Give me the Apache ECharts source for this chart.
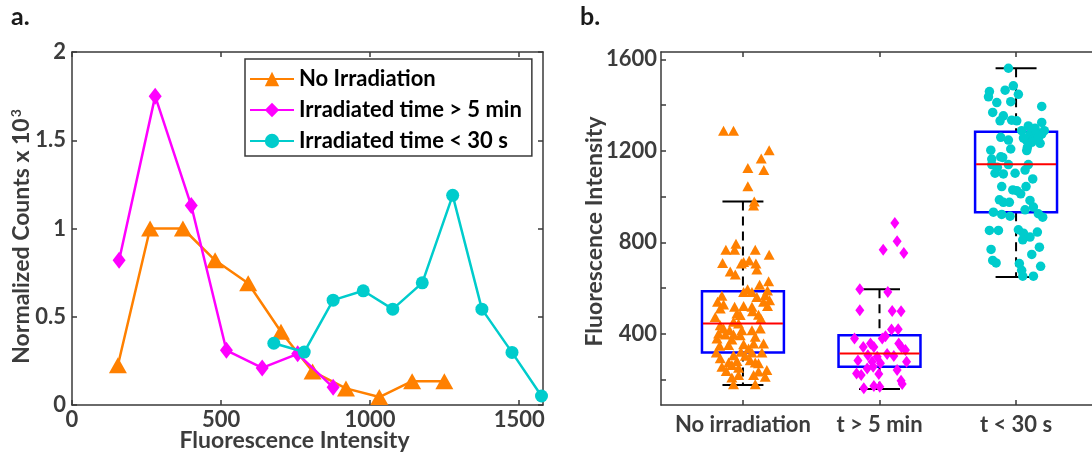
<!DOCTYPE html>
<html><head><meta charset="utf-8">
<script src="https://cdn.jsdelivr.net/npm/echarts@6/dist/echarts.min.js"></script>
<style>html,body{margin:0;padding:0;background:#fff}#c{width:1092px;height:454px}</style>
</head><body><div id="c"></div>
<script>
// ---------- Panel a: histogram lines ----------
const histNames = ['No Irradiation', 'Irradiated time > 5 min', 'Irradiated time < 30 s'];
const noIrrX = [154, 262, 372, 480, 591, 701, 807, 919, 1031, 1141, 1249];
const noIrrY = [0.225, 1.0, 1.0, 0.82, 0.69, 0.415, 0.19, 0.094, 0.045, 0.135, 0.135];
const gt5X = [158, 279, 400, 518, 638, 757, 876];
const gt5Y = [0.82, 1.75, 1.13, 0.31, 0.21, 0.29, 0.10];
const lt30X = [677, 779, 876, 977, 1076, 1175, 1277, 1375, 1476, 1575];
const lt30Y = [0.35, 0.30, 0.594, 0.647, 0.543, 0.692, 1.188, 0.543, 0.298, 0.051];
const histXTicks = [0, 500, 1000, 1500];

// ---------- Panel b: box plots + jittered points ----------
const groups = ['No irradiation', 't > 5 min', 't < 30 s'];
const groupPos = [1, 2, 3];
// [position, lower whisker, Q1, median, Q3, upper whisker]
const boxNoIrr = [1, 176, 319, 445, 586, 978];
const boxGt5 = [2, 159, 256, 314, 394, 595];
const boxLt30 = [3, 649, 932, 1141, 1283, 1561];
const boxYTicks = [200, 400, 600, 800, 1000, 1200, 1400, 1600];
const boxYLabels = [400, 800, 1200, 1600];

const noIrrPtX = [0.858,0.931,1.192,1.134,1.036,1.153,1.036,1.083,1.078,0.949,0.875,0.939,1.090,1.192,0.851,1.005,1.046,1.095,0.988,0.907,0.944,1.102,
  1.188,1.122,1.034,1.180,1.005,1.066,0.846,1.102,1.163,1.195,1.151,0.814,0.858,1.005,0.939,1.066,1.180,0.834,1.070,0.956,0.980,1.114,1.131,0.797,
  0.931,0.968,0.834,0.858,0.902,0.992,1.066,1.127,0.822,0.871,0.931,0.980,1.090,0.810,0.919,0.895,0.829,1.005,1.078,1.151,0.805,1.041,0.985,1.066,
  1.139,1.017,0.834,0.931,0.956,1.053,0.895,1.090,1.114,0.919,0.846,0.968,0.878,1.175,1.114,1.078,0.968,0.919,0.931,1.090,1.163];
const noIrrPtY = [1288,1288,1203,1167,1125,1116,1045,978,961,794,768,768,768,746,710,714,721,707,707,673,659,681,
  630,615,595,590,583,583,566,561,569,547,540,540,528,522,518,518,522,511,499,489,482,484,467,474,
  453,445,438,423,416,416,416,423,402,397,397,394,387,380,375,351,348,354,358,358,319,336,322,319,
  319,304,293,307,281,285,275,275,271,264,256,252,238,242,235,220,220,209,180,180,213];
const gt5PtX = [2.112,2.129,2.027,2.178,1.856,2.061,1.856,2.093,2.158,2.088,2.137,2.044,2.020,1.817,1.881,1.934,1.959,2.141,2.161,2.190,
  2.056,2.105,1.915,1.983,1.842,1.946,2.007,2.198,1.832,1.866,1.995,1.885,1.959,2.002,2.158,2.166,1.910,1.954,2.129];
const gt5PtY = [885,805,768,753,595,583,503,500,499,419,420,390,380,380,343,358,343,358,341,329,
  312,303,307,300,283,278,271,278,227,220,224,162,172,169,195,181,249,256,242];
const lt30PtX = [2.944,2.980,2.920,2.805,3.017,2.798,2.859,2.961,3.188,2.829,2.907,2.883,2.968,3.005,3.090,3.188,3.041,3.102,3.151,3.188,
  3.078,3.127,2.888,2.944,2.961,2.815,3.078,2.902,2.822,2.822,2.944,3.090,3.066,2.846,2.907,2.993,3.122,2.895,3.005,3.073,
  3.102,2.878,2.951,2.834,2.895,2.956,3.066,3.127,3.163,3.195,2.805,2.871,3.017,3.054,3.102,3.156,3.049,2.817,3.171,3.115,
  2.829,2.854,3.024,3.180,3.049,3.127,3.041,3.139,3.163,3.115,3.176,3.054,3.207,3.083,2.907,2.863,2.976,3.034,2.888];
const lt30PtY = [1561,1484,1465,1459,1447,1436,1411,1415,1394,1368,1353,1331,1334,1331,1309,1324,1288,1273,1280,1273,
  1244,1251,1259,1247,1208,1203,1201,1171,1164,1140,1140,1140,1116,1102,1099,1102,1077,1044,1026,1044,
  983,986,975,932,922,914,942,954,925,910,852,852,855,840,823,845,811,769,779,747,
  721,710,707,695,652,652,678,1299,1256,1237,1233,1256,1288,1215,975,1128,1029,1012,1174];

const ORANGE = '#ff8000', MAGENTA = '#ff00ff', CYAN = '#00cccc';
const FONT = 'Lato';
const AX = '#3a3a3a';
const zip = (a, b) => a.map((v, i) => [v, b[i]]);
const plain = v => String(v);

const lab = { color: '#3c3c3c', fontWeight: 'bold', fontFamily: FONT, fontSize: 22 };
const nameLab = { color: '#3c3c3c', fontWeight: 'bold', fontFamily: FONT, fontSize: 23 };
function tick(custom) {
  const t = { show: true, inside: true, length: 5, lineStyle: { color: AX, width: 1.5 } };
  if (custom) t.customValues = custom;
  return t;
}
function frameAxis(extra) {
  return Object.assign({
    axisLine: { show: true, onZero: false, lineStyle: { color: AX, width: 1.5 } },
    axisTick: tick(),
    splitLine: { show: false },
    nameMoveOverlap: false
  }, extra);
}

function renderBox(params, api) {
  const x = api.value(0);
  const pLo = api.coord([x, api.value(1)]);
  const pQ1 = api.coord([x, api.value(2)]);
  const pQ3 = api.coord([x, api.value(4)]);
  const pHi = api.coord([x, api.value(5)]);
  const bw = api.size([0.6, 0])[0];
  const cw = api.size([0.3, 0])[0];
  const dash = { stroke: '#000', lineWidth: 2, lineDash: [9, 6] };
  const solid = { stroke: '#000', lineWidth: 2 };
  return { type: 'group', children: [
    { type: 'line', shape: { x1: pHi[0], y1: pHi[1], x2: pQ3[0], y2: pQ3[1] }, style: dash },
    { type: 'line', shape: { x1: pQ1[0], y1: pQ1[1], x2: pLo[0], y2: pLo[1] }, style: dash },
    { type: 'line', shape: { x1: pHi[0] - cw / 2, y1: pHi[1], x2: pHi[0] + cw / 2, y2: pHi[1] }, style: solid },
    { type: 'line', shape: { x1: pLo[0] - cw / 2, y1: pLo[1], x2: pLo[0] + cw / 2, y2: pLo[1] }, style: solid },
    { type: 'rect', shape: { x: pQ3[0] - bw / 2, y: pQ3[1], width: bw, height: pQ1[1] - pQ3[1] },
      style: { fill: 'none', stroke: '#0000ff', lineWidth: 2.5 } }
  ] };
}
function renderMedian(params, api) {
  const x = api.value(0);
  const pM = api.coord([x, api.value(3)]);
  const bw = api.size([0.6, 0])[0];
  return { type: 'line', shape: { x1: pM[0] - bw / 2 + 1, y1: pM[1], x2: pM[0] + bw / 2 - 1, y2: pM[1] },
    style: { stroke: '#ff0000', lineWidth: 2 } };
}

const chart = echarts.init(document.getElementById('c'), null, { renderer: 'canvas' });
chart.setOption({
  animation: false,
  backgroundColor: '#fff',
  graphic: [
    { type: 'text', left: 11, top: 4, style: { text: 'a.', font: 'bold 25px Lato', fill: '#1a1a1a' } },
    { type: 'text', left: 580, top: 4, style: { text: 'b.', font: 'bold 25px Lato', fill: '#1a1a1a' } }
  ],
  grid: [
    { left: 72, top: 52, width: 471, height: 353, outerBoundsMode: 'none' },
    { left: 661, top: 52, right: -6, height: 353, outerBoundsMode: 'none' }
  ],
  legend: {
    orient: 'vertical', left: 245, top: 59,
    backgroundColor: '#fff', borderColor: AX, borderWidth: 1.5,
    padding: [9, 10, 4, 4], itemGap: 9, itemWidth: 44, itemHeight: 18,
    textStyle: { color: '#000', fontWeight: 'bold', fontFamily: FONT, fontSize: 22 },
    data: histNames
  },
  xAxis: [
    frameAxis({ type: 'value', gridIndex: 0, min: 0, max: 1580, position: 'bottom',
      name: 'Fluorescence Intensity', nameLocation: 'middle', nameGap: 24,
      nameTextStyle: Object.assign({ padding: [0, 26, 0, 0] }, nameLab),
      axisTick: tick(histXTicks),
      axisLabel: Object.assign({ customValues: histXTicks, margin: 4, formatter: plain }, lab) }),
    frameAxis({ type: 'value', gridIndex: 0, min: 0, max: 1580, position: 'top',
      axisTick: tick(histXTicks), axisLabel: { show: false } }),
    frameAxis({ type: 'value', gridIndex: 1, min: 0.4, max: 3.6, position: 'bottom',
      axisTick: tick(groupPos),
      axisLabel: Object.assign({ customValues: groupPos, margin: 9, formatter: v => groups[Math.round(v) - 1] }, lab) }),
    frameAxis({ type: 'value', gridIndex: 1, min: 0.4, max: 3.6, position: 'top',
      axisTick: tick(groupPos), axisLabel: { show: false } })
  ],
  yAxis: [
    frameAxis({ type: 'value', gridIndex: 0, min: 0, max: 2, interval: 0.5, position: 'left',
      name: 'Normalized Counts x 10{sup|3}', nameLocation: 'middle', nameGap: 37,
      nameTextStyle: Object.assign({ padding: [0, 16, 0, 0], rich: { sup: { fontSize: 14, fontWeight: 'bold', fontFamily: FONT, color: '#3c3c3c', padding: [0, 0, 12, 1] } } }, nameLab),
      axisLabel: Object.assign({ margin: 6, formatter: plain }, lab) }),
    frameAxis({ type: 'value', gridIndex: 0, min: 0, max: 2, interval: 0.5, position: 'right',
      axisLabel: { show: false } }),
    frameAxis({ type: 'value', gridIndex: 1, min: 89, max: 1632, position: 'left',
      name: 'Fluorescence Intensity', nameLocation: 'middle', nameGap: 55,
      nameTextStyle: Object.assign({ padding: [0, 6, 0, 0] }, nameLab),
      axisTick: tick(boxYTicks),
      axisLabel: Object.assign({ customValues: boxYLabels, margin: 4, formatter: plain }, lab) }),
    frameAxis({ type: 'value', gridIndex: 1, min: 89, max: 1632, position: 'right',
      axisTick: tick(boxYTicks), axisLabel: { show: false } })
  ],
  series: [
    { name: histNames[0], type: 'line', xAxisIndex: 0, yAxisIndex: 0, data: zip(noIrrX, noIrrY),
      color: ORANGE, lineStyle: { width: 2.5, color: ORANGE }, symbol: 'triangle', symbolSize: [18, 16],
      itemStyle: { color: ORANGE }, showAllSymbol: true, z: 3 },
    { name: histNames[1], type: 'line', xAxisIndex: 0, yAxisIndex: 0, data: zip(gt5X, gt5Y),
      color: MAGENTA, lineStyle: { width: 2.5, color: MAGENTA }, symbol: 'diamond', symbolSize: [13, 17],
      itemStyle: { color: MAGENTA }, showAllSymbol: true, z: 4 },
    { name: histNames[2], type: 'line', xAxisIndex: 0, yAxisIndex: 0, data: zip(lt30X, lt30Y),
      color: CYAN, lineStyle: { width: 2.5, color: CYAN }, symbol: 'circle', symbolSize: 13,
      itemStyle: { color: CYAN }, showAllSymbol: true, z: 5 },

    { type: 'custom', xAxisIndex: 2, yAxisIndex: 2, renderItem: renderBox, encode: { x: 0, y: [1, 2, 3, 4, 5] },
      data: [boxNoIrr, boxGt5, boxLt30], z: 2, silent: true },
    { type: 'scatter', xAxisIndex: 2, yAxisIndex: 2, data: zip(noIrrPtX, noIrrPtY),
      symbol: 'triangle', symbolSize: [11, 10], itemStyle: { color: ORANGE, opacity: 1 }, z: 3 },
    { type: 'scatter', xAxisIndex: 2, yAxisIndex: 2, data: zip(gt5PtX, gt5PtY),
      symbol: 'diamond', symbolSize: [9, 12], itemStyle: { color: MAGENTA, opacity: 1 }, z: 3 },
    { type: 'scatter', xAxisIndex: 2, yAxisIndex: 2, data: zip(lt30PtX, lt30PtY),
      symbol: 'circle', symbolSize: 9.5, itemStyle: { color: CYAN, opacity: 1 }, z: 3 },
    { type: 'custom', xAxisIndex: 2, yAxisIndex: 2, renderItem: renderMedian, encode: { x: 0, y: [1, 2, 3, 4, 5] },
      data: [boxNoIrr, boxGt5, boxLt30], z: 6, silent: true }
  ]
});
</script></body></html>
